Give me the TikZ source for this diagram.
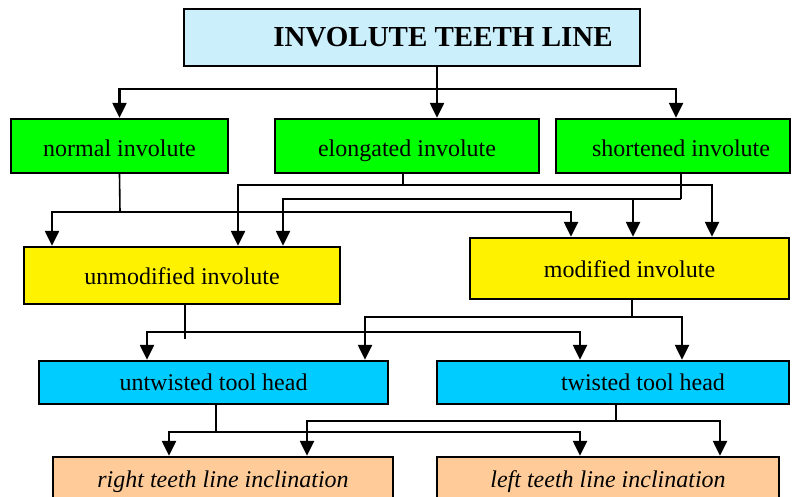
\documentclass[tikz,border=0pt]{standalone}
\usepackage{fontspec}
\setmainfont{Liberation Serif}
\usetikzlibrary{arrows.meta, positioning, calc}

\begin{document}
\begin{tikzpicture}[
  x=1pt, y=-1pt,
  box/.style={rectangle, draw, line width=2.4pt, inner sep=0pt,
              text height=21pt, text depth=4pt,
              font=\fontsize{24}{28}\selectfont},
  wire/.style={line width=1.6pt},
  arrow/.style={-{Triangle[length=15pt,width=14pt]}, line width=2.4pt},
]
\useasboundingbox (0,0) rectangle (794,497);

\node[box, fill=cyan!20, minimum width=456pt, minimum height=57pt,
      text height=19pt, text depth=0pt,
      font=\fontsize{29}{32}\selectfont\bfseries] (top) at (412,37.5)
  {\hspace*{62pt}INVOLUTE TEETH LINE};

\node[box, fill=green, text depth=0pt, minimum width=217pt, minimum height=54pt] (normal) at (119.5,146) {normal involute};
\node[box, fill=green, text depth=0pt, minimum width=264pt, minimum height=54pt] (elongated) at (407,146) {elongated involute};
\node[box, fill=green, text depth=0pt, minimum width=234pt, minimum height=54pt] (shortened) at (673,146) {\hspace*{16pt}shortened involute};

\node[box, fill=yellow, minimum width=316pt, minimum height=57pt] (unmodified) at (182,275.5) {unmodified involute};
\node[box, fill=yellow, minimum width=319pt, minimum height=61pt] (modified) at (629.5,268.5) {modified involute};

\node[box, fill={rgb,255:red,0;green,204;blue,255}, text depth=6pt, minimum width=349pt, minimum height=43pt] (untwisted) at (213.5,382.5) {untwisted tool head};
\node[box, fill={rgb,255:red,0;green,204;blue,255}, text depth=6pt, minimum width=352pt, minimum height=43pt] (twisted) at (613,382.5) {\hspace*{60pt}twisted tool head};

\node[box, fill={rgb,255:red,255;green,204;blue,153}, text depth=6pt, minimum width=340pt, minimum height=46pt] (right) at (223,480) {\itshape right teeth line inclination};
\node[box, fill={rgb,255:red,255;green,204;blue,153}, text depth=6pt, minimum width=342pt, minimum height=46pt] (left) at (608,480) {\itshape left teeth line inclination};

% ---- connectors ----
\coordinate (b0) at (437,89);
\draw[wire] (top.south -| b0) -- (b0);
\draw[arrow] (b0) -| (normal.north);
\draw[arrow] (b0) -- (b0 |- elongated.north);
\draw[arrow] (b0) -| ([xshift=3pt]shortened.north);

\coordinate (b1) at (120,212);
\draw[wire] (normal.south) -- (b1);
\draw[arrow] (b1) -| ([xshift=-130pt]unmodified.north);
\draw[arrow] (b1) -| ([xshift=-58.5pt]modified.north);

\coordinate (b2) at (403,185);
\draw[wire] (elongated.south -| b2) -- (b2);
\draw[arrow] (b2) -| ([xshift=56pt]unmodified.north);
\draw[arrow] (b2) -| ([xshift=82.5pt]modified.north);

\coordinate (b3) at (681,199);
\draw[wire] (shortened.south -| b3) -- (b3);
\draw[arrow] (b3) -| ([xshift=101pt]unmodified.north);
\draw[arrow] (b3 -| 633,0) -- ([xshift=3.5pt]modified.north);

\coordinate (b4) at (185,332);
\draw[wire] (unmodified.south -| b4) -- (b4) -- ++(0,7);
\draw[arrow] (b4) -| ([xshift=-66.5pt]untwisted.north);
\draw[arrow] (b4) -| ([xshift=-33pt]twisted.north);

\coordinate (b5) at (632,317);
\draw[wire] (modified.south -| b5) -- (b5);
\draw[arrow] (b5) -| ([xshift=151.5pt]untwisted.north);
\draw[arrow] (b5) -| ([xshift=69pt]twisted.north);

\coordinate (b6) at (216,432);
\draw[wire] (untwisted.south -| b6) -- (b6);
\draw[arrow] (b6) -| ([xshift=-54pt]right.north);
\draw[arrow] (b6) -| ([xshift=-28pt]left.north);

\coordinate (b7) at (616,421);
\draw[wire] (twisted.south -| b7) -- (b7);
\draw[arrow] (b7) -| ([xshift=84pt]right.north);
\draw[arrow] (b7) -| ([xshift=112pt]left.north);

\end{tikzpicture}
\end{document}
